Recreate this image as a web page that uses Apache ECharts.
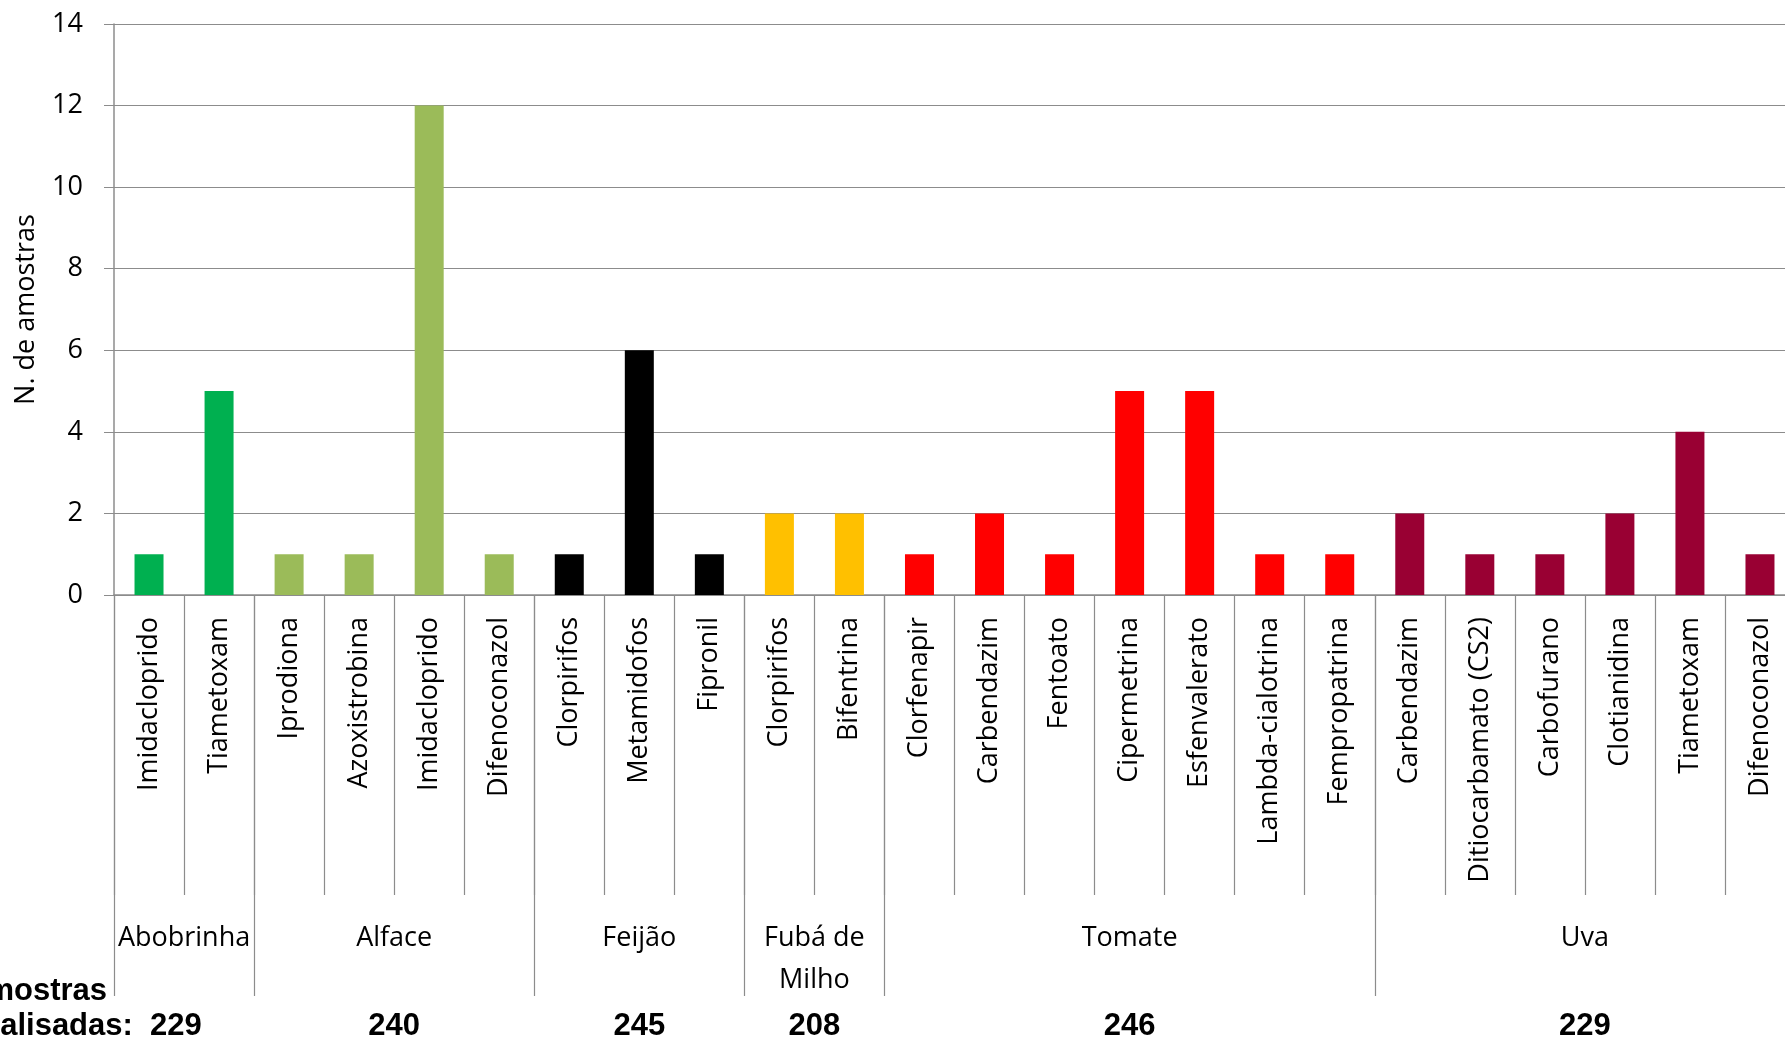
<!DOCTYPE html>
<html>
<head>
<meta charset="utf-8">
<script src="https://cdn.jsdelivr.net/npm/echarts@6/dist/echarts.min.js"></script>
<style>
    html, body { margin: 0; padding: 0; background: #fff; }
    #chart { width: 1785px; height: 1038px; }
</style>
</head>
<body>
<div id="chart"></div>
<script>
    // dados
    const pesticides = ['Imidacloprido', 'Tiametoxam',
        'Iprodiona', 'Azoxistrobina', 'Imidacloprido', 'Difenoconazol',
        'Clorpirifos', 'Metamidofos', 'Fipronil',
        'Clorpirifos', 'Bifentrina',
        'Clorfenapir', 'Carbendazim', 'Fentoato', 'Cipermetrina', 'Esfenvalerato', 'Lambda-cialotrina', 'Fempropatrina',
        'Carbendazim', 'Ditiocarbamato (CS2)', 'Carbofurano', 'Clotianidina', 'Tiametoxam', 'Difenoconazol'
    ];
    const counts = [1, 5,
        1, 1, 12, 1,
        1, 6, 1,
        2, 2,
        1, 2, 1, 5, 5, 1, 1,
        2, 1, 1, 2, 4, 1
    ];
    const groups = ['Abobrinha', 'Alface', 'Feijão', 'Fubá de\nMilho', 'Tomate', 'Uva'];
    const groupSizes = [2, 4, 3, 2, 7, 6];
    const groupColors = ['#00B050', '#9BBB59', '#000000', '#FFC000', '#FF0000', '#990033'];
    const samplesAnalysed = [229, 240, 245, 208, 246, 229];
    const yMin = 0, yMax = 14, yStep = 2;

    const gray = '#8c8c8c';
    const font = 'Open Sans';

    // índice do grupo de cada categoria e início de cada grupo
    const groupOf = [];
    const groupStarts = [];
    groupSizes.forEach((n, g) => {
        groupStarts.push(groupOf.length);
        for (let i = 0; i < n; i++) groupOf.push(g);
    });

    const myChart = echarts.init(document.getElementById('chart'));

    let option = {
        backgroundColor: '#fff',
        animation: false,
        grid: {
            left: 114,
            top: 24,
            width: 1681,
            height: 571,
            outerBoundsMode: 'none'
        },
        xAxis: [{
            type: 'category',
            data: pesticides,
            axisLine: { lineStyle: { color: gray, width: 1.5 } },
            axisTick: {
                show: true,
                interval: 0,
                length: 300,
                lineStyle: { color: gray, width: 1.2 }
            },
            axisLabel: {
                interval: 0,
                rotate: 90,
                margin: 22,
                color: '#000',
                fontFamily: font,
                fontSize: 27
            },
            splitLine: { show: false }
        }, {
            // linhas que separam os grupos
            type: 'category',
            data: pesticides,
            position: 'bottom',
            axisLine: { show: false },
            axisTick: {
                show: true,
                interval: (idx) => groupStarts.indexOf(idx) !== -1,
                length: 401,
                lineStyle: { color: gray, width: 1.2 }
            },
            axisLabel: { show: false },
            splitLine: { show: false }
        }],
        yAxis: {
            type: 'value',
            min: yMin,
            max: yMax,
            interval: yStep,
            name: 'N. de amostras',
            nameLocation: 'middle',
            nameGap: 74,
            nameTextStyle: {
                color: '#000',
                fontFamily: font,
                fontSize: 27
            },
            axisLine: { show: true, lineStyle: { color: gray, width: 1.5 } },
            axisTick: { show: true, length: 10, lineStyle: { color: gray } },
            axisLabel: {
                margin: 31,
                color: '#000',
                fontFamily: font,
                fontSize: 27
            },
            splitLine: { lineStyle: { color: gray, width: 1.2 } }
        },
        series: [{
            type: 'bar',
            barWidth: 29,
            data: counts,
            itemStyle: {
                color: (p) => groupColors[groupOf[p.dataIndex]]
            }
        }]
    };

    myChart.setOption(option);

    // nomes dos alimentos e amostras analisadas, centrados em cada grupo
    const px = (i) => myChart.convertToPixel({ xAxisIndex: 0 }, i);
    const texts = [];
    groups.forEach((name, g) => {
        const first = groupStarts[g];
        const last = first + groupSizes[g] - 1;
        const cx = (px(first) + px(last)) / 2;
        texts.push({
            type: 'text',
            x: cx,
            y: 917,
            style: {
                text: name,
                align: 'center',
                verticalAlign: 'top',
                lineHeight: 42,
                fill: '#000',
                fontFamily: font,
                fontSize: 27
            }
        });
        if (g > 0) {
            texts.push({
                type: 'text',
                x: cx,
                y: 1026,
                style: {
                    text: String(samplesAnalysed[g]),
                    align: 'center',
                    verticalAlign: 'middle',
                    fill: '#000',
                    fontFamily: 'Liberation Sans',
                    fontWeight: 'bold',
                    fontSize: 31
                }
            });
        }
    });
    texts.push({
        type: 'text',
        x: -36,
        y: 974,
        style: {
            text: 'Amostras\nanalisadas:  ' + samplesAnalysed[0],
            align: 'left',
            verticalAlign: 'top',
            lineHeight: 35,
            fill: '#000',
            fontFamily: 'Liberation Sans',
            fontWeight: 'bold',
            fontSize: 31
        }
    });

    myChart.setOption({ graphic: texts });

    window.addEventListener('resize', () => {
        if (myChart) myChart.resize();
    });
</script>
</body>
</html>
